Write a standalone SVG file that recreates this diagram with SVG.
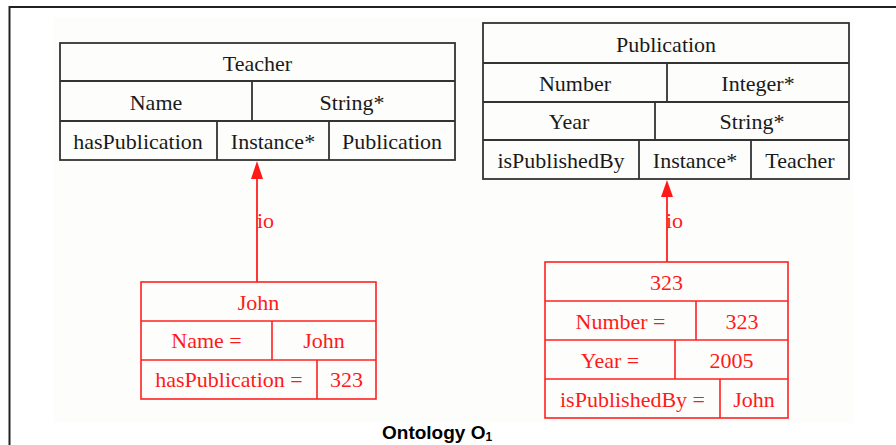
<svg xmlns="http://www.w3.org/2000/svg" width="896" height="445" viewBox="0 0 896 445">
  <style>
    .cls rect, .cls line { fill: none; stroke: #333; stroke-width: 1.8; }
    .inst rect, .inst line { fill: none; stroke: #ff2020; stroke-width: 1.6; }
    .cls text, .inst text, .lbl { font-family: "Liberation Serif", "Times New Roman", serif; font-size: 22px; }
    .cls text, .inst text { text-anchor: middle; }
    .cls text { fill: #1a1a1a; }
    .inst text, .lbl { fill: #ff1a1a; }
    .lbl { text-anchor: start; }
    .cap { font-family: "Liberation Sans", Arial, sans-serif; font-weight: bold; font-size: 19px; fill: #000; text-anchor: start; }
    .head { fill: #ff1a1a; stroke: none; }
  </style>

  <rect width="896" height="445" fill="#ffffff"/>
  <!-- page frame -->
  <path d="M9.5,445 V7 H896" fill="none" stroke="#222" stroke-width="2"/>
  <!-- diagram canvas -->
  <rect x="53" y="17" width="800" height="406" fill="#fdfefc"/>

  <!-- class Teacher -->
  <g id="teacher" class="cls">
    <rect x="60" y="43" width="395" height="117"/>
    <line x1="60" y1="81" x2="455" y2="81"/>
    <line x1="60" y1="121" x2="455" y2="121"/>
    <line x1="252" y1="81" x2="252" y2="121"/>
    <line x1="217" y1="121" x2="217" y2="160"/>
    <line x1="329" y1="121" x2="329" y2="160"/>
    <text x="257.5" y="70.5">Teacher</text>
    <text x="156" y="109.5">Name</text>
    <text x="352" y="109.5">String*</text>
    <text x="138" y="148.5">hasPublication</text>
    <text x="273" y="148.5">Instance*</text>
    <text x="392" y="148.5">Publication</text>
  </g>

  <!-- class Publication -->
  <g id="publication" class="cls">
    <rect x="483" y="23" width="366" height="156"/>
    <line x1="483" y1="63" x2="849" y2="63"/>
    <line x1="483" y1="102" x2="849" y2="102"/>
    <line x1="483" y1="140" x2="849" y2="140"/>
    <line x1="667" y1="63" x2="667" y2="102"/>
    <line x1="655" y1="102" x2="655" y2="140"/>
    <line x1="639" y1="140" x2="639" y2="179"/>
    <line x1="751" y1="140" x2="751" y2="179"/>
    <text x="666" y="51.5">Publication</text>
    <text x="575" y="90.5">Number</text>
    <text x="758" y="90.5">Integer*</text>
    <text x="569" y="129">Year</text>
    <text x="752" y="129">String*</text>
    <text x="561" y="168">isPublishedBy</text>
    <text x="695" y="168">Instance*</text>
    <text x="800" y="168">Teacher</text>
  </g>

  <!-- instance John -->
  <g id="john" class="inst">
    <rect x="141" y="282" width="235" height="117"/>
    <line x1="141" y1="321" x2="376" y2="321"/>
    <line x1="141" y1="360" x2="376" y2="360"/>
    <line x1="272" y1="321" x2="272" y2="360"/>
    <line x1="317" y1="360" x2="317" y2="399"/>
    <text x="258.5" y="309.5">John</text>
    <text x="206.5" y="348">Name =</text>
    <text x="324" y="348">John</text>
    <text x="229" y="387">hasPublication =</text>
    <text x="346.5" y="387">323</text>
  </g>

  <!-- instance 323 -->
  <g id="pub323" class="inst">
    <rect x="545" y="262" width="243" height="156"/>
    <line x1="545" y1="301" x2="788" y2="301"/>
    <line x1="545" y1="340" x2="788" y2="340"/>
    <line x1="545" y1="379" x2="788" y2="379"/>
    <line x1="696" y1="301" x2="696" y2="340"/>
    <line x1="675" y1="340" x2="675" y2="379"/>
    <line x1="720" y1="379" x2="720" y2="418"/>
    <text x="666.5" y="290">323</text>
    <text x="620.5" y="329">Number =</text>
    <text x="742" y="329">323</text>
    <text x="610" y="368">Year =</text>
    <text x="731.5" y="368">2005</text>
    <text x="632.5" y="407">isPublishedBy =</text>
    <text x="754" y="407">John</text>
  </g>

  <!-- instance-of connectors -->
  <g id="connectors">
    <line x1="257" y1="282" x2="257" y2="176" stroke="#ff2020" stroke-width="1.8"/>
    <polygon class="head" points="257,161 251,179 263,179"/>
    <line x1="667" y1="262" x2="667" y2="195" stroke="#ff2020" stroke-width="1.8"/>
    <polygon class="head" points="667,180 661,197 673,197"/>
    <text class="lbl" x="257" y="228">io</text>
    <text class="lbl" x="666" y="228">io</text>
  </g>

  <!-- caption -->
  <text class="cap" x="382" y="439">Ontology O<tspan font-size="12" dy="2">1</tspan></text>
</svg>
